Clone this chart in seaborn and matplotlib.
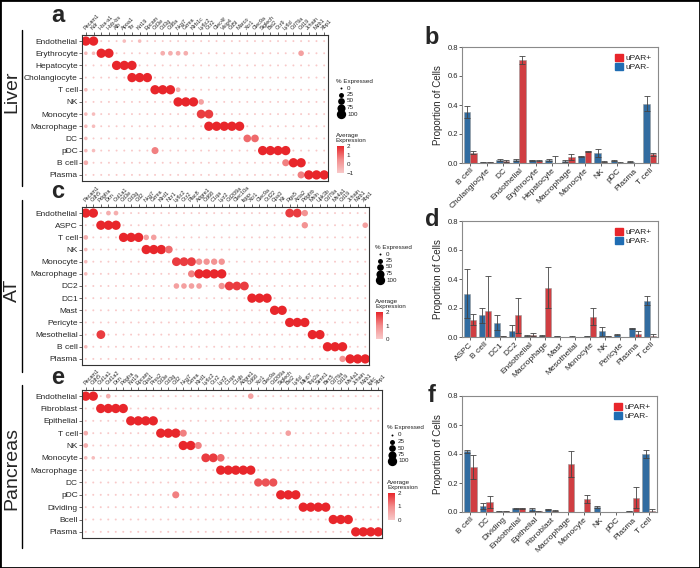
import numpy as np
import pandas as pd
import matplotlib
matplotlib.use("Agg")
import matplotlib.pyplot as plt
import seaborn as sns
from matplotlib.colors import LinearSegmentedColormap, Normalize
from matplotlib.cm import ScalarMappable
from matplotlib.patches import Rectangle, Patch
from matplotlib.lines import Line2D

# ---------------- data ----------------
liver_cells = ["Endothelial", "Erythrocyte", "Hepatocyte", "Cholangiocyte", "T cell", "NK",
               "Monocyte", "Macrophage", "DC", "pDC", "B cell", "Plasma"]
liver_genes = ["Pecam1", "Kdr", "Hba-a1", "Hbb-bs", "Alb", "Apoa1", "Ttr", "Krt19", "Epcam",
               "Cd3e", "Cd3g", "Cd8a", "Nkg7", "Gzma", "Klrb1c", "Ly6c2", "Ccr2", "Clec4f",
               "Vsig4", "Cd5l", "Marco", "Xcr1", "Clec9a", "Siglech", "Bst2", "Ccr9", "Ly6d",
               "Cd79a", "Cd19", "Jchain", "Mzb1", "Xbp1"]
# one digit per gene: 0 = trace ... 9 = ~100 % expressed (colour follows the same level)
liver_levels = [
    "99000101 00000000 00000000 00000000",
    "11990000 00222200 00000000 00003000",
    "00009990 00000000 00000000 00000000",
    "00000099 90000000 00000000 00000000",
    "10000000 09992000 00000000 00000000",
    "00000000 00009993 00000000 00000000",
    "11000000 00000008 80000000 00000000",
    "11000000 00000000 99999000 00000000",
    "10000000 00000000 00000660 00000000",
    "11000000 05000000 00000009 99900000",
    "20000000 00000000 00000000 00599000",
    "00000000 00000000 00000000 00005999",
]

at_cells = ["Endothelial", "ASPC", "T cell", "NK", "Monocyte", "Macrophage", "DC2", "DC1",
            "Mast", "Pericyte", "Mesothelial", "B cell", "Plasma"]
at_genes = ["Pecam1", "Cdh5", "Pdgfra", "Dcn", "Col1a1", "Cd3e", "Cd3g", "Cd2", "Nkg7", "Gzma",
            "Klrd1", "Ncr1", "Ly6c2", "Ccr2", "Plac8", "Adgre1", "Cd68", "C1qa", "Lyz2", "Cd209a",
            "Clec10a", "Itgax", "Xcr1", "Clec9a", "Ccl22", "Cpa3", "Kit", "Rgs5", "Acta2", "Pdgfrb",
            "Msln", "Upk3b", "Cd79a", "Ms4a1", "Cd19", "Jchain", "Mzb1", "Xbp1"]
at_levels = [
    "99022000 00000000 00000000 00088400 000000",
    "00999000 00000000 00000000 00000400 000003",
    "20000999 33000000 00000000 00000000 000000",
    "10000000 99960000 00000000 00000000 000000",
    "10000000 00008884 44400000 00000000 000000",
    "10000000 00000059 99900000 00000000 000000",
    "00000000 00003333 00488800 00000000 000000",
    "00000000 00000000 00000099 90000000 000000",
    "00000000 00000000 00000000 09900000 000000",
    "00000000 00000000 00000000 00099900 000000",
    "00800000 00000000 00000000 00000099 000000",
    "10000000 00000000 00000000 00000000 999000",
    "00000000 00000000 00000000 00000000 004999",
]

pan_cells = ["Endothelial", "Fibroblast", "Epithelial", "T cell", "NK", "Monocyte", "Macrophage",
             "DC", "pDC", "Dividing", "Bcell", "Plasma"]
pan_genes = ["Pecam1", "Cdh5", "Col1a1", "Col1a2", "Dcn", "Pdgfra", "Krt19", "Epcam", "Cpa1",
             "Prss2", "Cd3e", "Cd3g", "Cd2", "Nkg7", "Gzma", "Klrd1", "Ly6c2", "Ccr2", "Lyz2",
             "C1qa", "C1qb", "Adgre1", "Cd68", "Xcr1", "Clec9a", "Cd209a", "Siglech", "Bst2",
             "Ly6d", "Mki67", "Top2a", "Stmn1", "Birc5", "Cd79a", "Cd19", "Ms4a1", "Jchain",
             "Mzb1", "Igkc", "Xbp1"]
pan_levels = [
    "99020000 00000000 00000030 00000000 00000000",
    "00999900 00000000 00000000 00000000 00000000",
    "00000099 99000000 00000000 00000000 00000000",
    "20000000 00999500 00000000 00030000 00000000",
    "20000000 00000995 00000000 00000000 00000000",
    "11000000 00000000 88600000 00000000 00000000",
    "00000000 00000000 00999990 00000000 00000000",
    "00000000 00000000 00000007 77000000 00000000",
    "00000000 00005000 00000000 00999000 00000000",
    "00000000 00000000 00000000 00000999 90000000",
    "00000000 00000000 00000000 00000000 09990000",
    "00000000 00000000 00000000 00000000 00009999",
]

# bar charts: mean proportion and error for uPAR- (blue) and uPAR+ (red)
liver_bar_cats = ["B cell", "Cholangiocyte", "DC", "Endothelial", "Erythrocyte", "Hepatocyte",
                  "Macrophage", "Monocyte", "NK", "pDC", "Plasma", "T cell"]
liver_neg = [0.35, 0.005, 0.02, 0.02, 0.02, 0.02, 0.015, 0.045, 0.07, 0.015, 0.01, 0.41]
liver_pos = [0.07, 0.005, 0.015, 0.71, 0.015, 0.0, 0.04, 0.08, 0.01, 0.003, 0.002, 0.06]
liver_neg_err = [0.04, 0.002, 0.005, 0.005, 0.003, 0.005, 0.005, 0.005, 0.03, 0.004, 0.002, 0.05]
liver_pos_err = [0.01, 0.002, 0.005, 0.03, 0.003, 0.05, 0.02, 0.005, 0.005, 0.002, 0.001, 0.01]

at_bar_cats = ["ASPC", "B cell", "DC1", "DC2", "Endothelial", "Macrophage", "Mast", "Mesothelial",
               "Monocyte", "NK", "Pericyte", "Plasma", "T cell"]
at_neg = [0.30, 0.15, 0.10, 0.04, 0.01, 0.01, 0.005, 0.003, 0.005, 0.04, 0.015, 0.06, 0.25]
at_pos = [0.12, 0.18, 0.005, 0.15, 0.015, 0.34, 0.0, 0.002, 0.14, 0.005, 0.002, 0.02, 0.01]
at_neg_err = [0.17, 0.05, 0.05, 0.04, 0.003, 0.005, 0.003, 0.002, 0.003, 0.03, 0.003, 0.005, 0.03]
at_pos_err = [0.04, 0.24, 0.003, 0.12, 0.01, 0.14, 0.0, 0.001, 0.06, 0.003, 0.001, 0.02, 0.01]

pan_bar_cats = ["B cell", "DC", "Dividing", "Endothelial", "Epithelial", "Fibroblast",
                "Macrophage", "Monocyte", "NK", "pDC", "Plasma", "T cell"]
pan_neg = [0.42, 0.04, 0.005, 0.025, 0.02, 0.02, 0.002, 0.002, 0.035, 0.002, 0.005, 0.40]
pan_pos = [0.31, 0.07, 0.005, 0.025, 0.005, 0.01, 0.33, 0.09, 0.0, 0.0, 0.10, 0.01]
pan_neg_err = [0.01, 0.02, 0.002, 0.003, 0.01, 0.003, 0.001, 0.001, 0.005, 0.001, 0.003, 0.03]
pan_pos_err = [0.08, 0.04, 0.002, 0.003, 0.002, 0.005, 0.09, 0.03, 0.0, 0.0, 0.07, 0.01]

# ---------------- style ----------------
sns.set_theme(style="white")
plt.rcParams["font.family"] = ["Liberation Sans", "DejaVu Sans"]
RED = "#E8262B"
BLUE = "#1F6DB3"
cmap = LinearSegmentedColormap.from_list("expr", ["#f8c9c9", "#f28c8c", "#E8262B"])

W, H = 700, 568
fig = plt.figure(figsize=(7, 5.68), dpi=100)


def rect(x0, y0, x1, y1):
    return [x0 / W, 1 - y1 / H, (x1 - x0) / W, (y1 - y0) / H]


SMIN, SMAX = 2.0, 45


def dotplot(box, cells, genes, levels):
    ax = fig.add_axes(rect(*box))
    recs = []
    for c, code in zip(cells, levels):
        code = code.replace(" ", "")
        for g, ch in zip(genes, code):
            lv = int(ch)
            recs.append((g, c, lv * 100 / 9, -1 + 3 * lv / 9))
    df = pd.DataFrame(recs, columns=["gene", "cell", "pct", "expr"])
    sns.scatterplot(data=df, x="gene", y="cell", size="pct", hue="expr", sizes=(SMIN, SMAX),
                    size_norm=(0, 100), hue_norm=(-1, 2), palette=cmap, linewidth=0,
                    legend=False, ax=ax)
    ax.set_xlim(-0.5, len(genes) - 0.5)
    ax.set_ylim(len(cells) - 0.5, -0.5)
    ax.xaxis.tick_top()
    ax.set_xlabel("")
    ax.set_ylabel("")
    ax.tick_params(axis="x", labelsize=4, length=2, width=0.5, pad=1, top=True, bottom=False,
                   labeltop=True, labelbottom=False, rotation=45)
    for t in ax.get_xticklabels():
        t.set_ha("left")
        t.set_rotation_mode("anchor")
    ax.tick_params(axis="y", labelsize=6, length=2, width=0.5, pad=1, left=True)
    for s in ax.spines.values():
        s.set_linewidth(0.8)
        s.set_color("#333333")
    return ax


def dot_legend(x, y, cb_ticks):
    ax = fig.add_axes(rect(x, y, x + 45, y + 52))
    ax.axis("off")
    ax.set_xlim(0, 45)
    ax.set_ylim(52, 0)
    ax.text(0, 3, "% Expressed", fontsize=4.5, va="center", color="#222222")
    for i, p in enumerate([0, 25, 50, 75, 100]):
        yy = 10 + i * 6.5
        ax.scatter([5], [yy], s=SMIN + (SMAX - SMIN) * p / 100, color="black", linewidth=0)
        ax.text(11, yy, str(p), fontsize=4.5, va="center", color="#222222")
    fig.text((x) / W, 1 - (y + 60) / H, "Average\nExpression", fontsize=4.5, va="center",
             color="#222222", linespacing=1.1)
    cax = fig.add_axes(rect(x + 1, y + 68, x + 8, y + 95))
    cb = fig.colorbar(ScalarMappable(norm=Normalize(cb_ticks[-1], cb_ticks[0]), cmap=cmap),
                      cax=cax, ticks=cb_ticks)
    cb.outline.set_visible(False)
    cax.tick_params(labelsize=4.5, length=0, pad=2)


def barpanel(box, cats, neg, pos, neg_err, pos_err, yticks):
    ax = fig.add_axes(rect(*box))
    n = len(cats)
    df = pd.DataFrame({"cell": cats * 2, "prop": neg + pos,
                       "group": ["uPAR-"] * n + ["uPAR+"] * n})
    sns.barplot(data=df, x="cell", y="prop", hue="group", hue_order=["uPAR-", "uPAR+"],
                palette={"uPAR-": BLUE, "uPAR+": RED}, errorbar=None, width=0.8,
                linewidth=0.4, edgecolor="#999999", ax=ax)
    for cont, errs in zip(ax.containers, [neg_err, pos_err]):
        for bar, e in zip(cont, errs):
            xc = bar.get_x() + bar.get_width() / 2
            ax.errorbar(xc, bar.get_height(), yerr=e, fmt="none", ecolor="#444444",
                        elinewidth=0.6, capsize=2.5, capthick=0.6)
    ax.set_ylim(0, yticks[-1])
    ax.set_xlim(-0.5, n - 0.5)
    ax.set_yticks(yticks)
    ax.set_yticklabels([f"{v:.1f}" for v in yticks])
    ax.set_xlabel("")
    ax.set_ylabel("Proportion of Cells", fontsize=7, labelpad=3)
    ax.tick_params(axis="y", labelsize=5.5, length=2, width=0.5, pad=1, left=True)
    ax.tick_params(axis="x", labelsize=6, length=2, width=0.5, pad=1, bottom=True, rotation=45)
    for t in ax.get_xticklabels():
        t.set_ha("right")
        t.set_rotation_mode("anchor")
    for s in ax.spines.values():
        s.set_linewidth(0.8)
        s.set_color("#8a8a8a")
    handles = [Patch(color=RED, label="uPAR+"), Patch(color=BLUE, label="uPAR-")]
    ax.legend(handles=handles, loc="upper right", frameon=False, fontsize=6,
              handlelength=0.9, handleheight=0.9, handletextpad=0.3, labelspacing=0.1,
              borderaxespad=0.4)
    return ax


# ---------------- panels ----------------
dotplot((82, 35, 328, 181), liver_cells, liver_genes, liver_levels)
dotplot((82, 207, 369, 365), at_cells, at_genes, at_levels)
dotplot((82, 390, 382, 538), pan_cells, pan_genes, pan_levels)

dot_legend(336, 78, [2, 1, 0, -1])
dot_legend(375, 244, [2, 1, 0])
dot_legend(387, 425, [2, 1, 0])

yt = [0.0, 0.2, 0.4, 0.6, 0.8]
barpanel((462, 47, 658, 163), liver_bar_cats, liver_neg, liver_pos, liver_neg_err, liver_pos_err, yt)
barpanel((462, 221, 658, 337), at_bar_cats, at_neg, at_pos, at_neg_err, at_pos_err, yt)
barpanel((462, 396, 657, 512), pan_bar_cats, pan_neg, pan_pos, pan_neg_err, pan_pos_err, yt)

# panel letters
for letter, (x, y) in zip("abcdef", [(58, 16), (432, 38), (58, 192), (432, 220), (58, 378), (432, 395)]):
    fig.text(x / W, 1 - y / H, letter, fontsize=17, fontweight="bold", ha="center", va="center")

# tissue labels with separator lines
for name, (yc, y0, y1) in zip(["Liver", "AT", "Pancreas"],
                              [(92, 30, 186), (290, 200, 372), (468, 385, 548)]):
    fig.text(12 / W, 1 - yc / H, name, fontsize=14, rotation=90, ha="center", va="center")
    fig.add_artist(Line2D([22 / W, 22 / W], [1 - y0 / H, 1 - y1 / H], color="black", lw=1))

fig.add_artist(Rectangle((0, 0), 1, 1, transform=fig.transFigure, fill=False, lw=2, ec="black"))

fig.savefig("out.png", dpi=100)
